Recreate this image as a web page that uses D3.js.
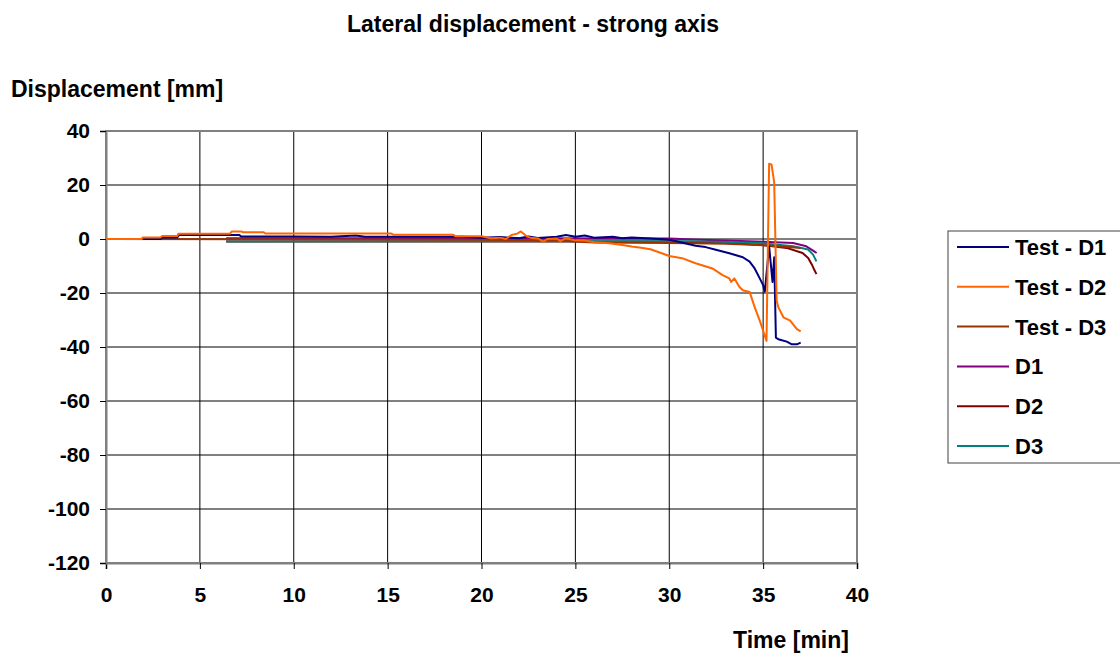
<!DOCTYPE html>
<html>
<head>
<meta charset="utf-8">
<script src="https://d3js.org/d3.v7.min.js"></script>
<style>
  body { margin: 0; background: #fff; }
  text { font-family: "Liberation Sans", Arial, sans-serif; font-weight: bold; fill: #000; }
</style>
</head>
<body>
<div id="chart"></div>
<script>
// tick labels
var xTicks = [0, 5, 10, 15, 20, 25, 30, 35, 40];
var yTicks = [40, 20, 0, -20, -40, -60, -80, -100, -120];

// series names and colours (legend order)
var seriesNames = ["Test - D1", "Test - D2", "Test - D3", "D1", "D2", "D3"];
var seriesColors = ["#000080", "#ff6600", "#993300", "#800080", "#800000", "#008080"];

// [time min, displacement mm]
var testD1 = [[0,0],[2.9,0],[3.0,0.6],[3.8,0.6],[3.9,1.5],[7.1,1.5],[7.2,0.9],[10,0.9],[12,0.8],[13.3,1.3],[13.8,0.8],
  [17,0.8],[19,0.8],[20,0.5],[21,0.7],[22,0.3],[22.5,0.9],[23,0.4],[24,0.8],[24.5,1.5],[25,0.8],[25.5,1.3],[26,0.5],
  [27,0.8],[27.5,0.3],[28,0.6],[29,0.2],[30,-0.3],[30.5,-1.0],[30.95,-1.75],[31.4,-2.5],[31.94,-3],[32.48,-4],[33.2,-5.25],
  [33.92,-6.75],[34.28,-8.4],[34.55,-10.9],[34.82,-14.6],[35.0,-17.1],[35.09,-19.5],[35.32,-2.75],[35.5,-15.9],[35.59,-6.75],
  [35.68,-36.5],[35.81,-37.1],[36.26,-38],[36.53,-39],[36.8,-39],[37.0,-38.4]];

var testD2 = [[0,0],[1.9,0],[1.95,0.6],[2.9,0.6],[3.0,1.1],[3.8,1.1],[3.85,1.9],[6.6,1.9],[6.7,2.8],[7.2,2.8],[7.3,2.5],
  [8.4,2.5],[8.5,2.0],[15.2,2.0],[15.3,1.6],[18.5,1.6],[18.6,1.0],[20.0,1.0],[20.5,0.3],[21.0,0.5],[21.3,0.0],[21.6,1.5],
  [21.9,2.0],[22.1,2.8],[22.4,1.0],[22.6,0.5],[23.0,0.2],[23.3,-1.0],[23.5,0.0],[24.0,0.2],[24.2,-0.8],[24.5,0.3],[25.0,-0.5],
  [25.5,-0.6],[26.0,-1.2],[26.8,-1.6],[27.5,-2.2],[28.0,-2.8],[28.5,-3.2],[29.0,-3.8],[29.6,-5.3],[30.0,-6.3],[30.68,-7.1],
  [31.4,-9],[32.3,-10.9],[32.84,-13.4],[33.2,-14.6],[33.3,-15.9],[33.47,-14.6],[33.74,-17.75],[33.92,-19],[34.28,-19.6],
  [34.55,-25.25],[34.82,-30.25],[35.0,-34],[35.18,-37.75],[35.32,27.9],[35.45,27.5],[35.59,21],[35.72,-22.75],[35.81,-25.25],
  [36.08,-29],[36.44,-30.25],[36.8,-33.4],[37.0,-34.25]];

var testD3 = [[0,0],[20,-0.3],[24,-0.5],[25,-0.9],[26,-1.3],[30,-1.5],[33,-1.8],[35,-2.3],[36,-2.8],[37,-3.3]];

var d1 = [[6.4,0.3],[30,0.2],[31.24,-0.2],[33,-0.6],[35,-1.0],[36.6,-1.5],[37.3,-2.7],[37.66,-4.3],[37.85,-5.2]];

var d2 = [[6.4,-0.9],[29.6,-0.9],[31.24,-1.1],[33.0,-1.5],[34.8,-2.1],[36.25,-3.3],[37.1,-5.2],[37.4,-7],[37.6,-9.5],
  [37.73,-11.5],[37.84,-13]];

var d3Num = [[6.4,-0.9],[31.24,-0.8],[33,-1.1],[34.8,-1.5],[36.6,-2.7],[37.4,-3.9],[37.66,-5.8],[37.84,-8.3]];

var seriesData = [testD1, testD2, testD3, d1, d2, d3Num];

var width = 1120, height = 657;
var plotL = 106, plotR = 857, plotT = 131, plotB = 563;

var svg = d3.select("#chart").append("svg")
  .attr("width", width)
  .attr("height", height);

var x = d3.scaleLinear().domain([0, 40]).range([plotL, plotR]);
var y = d3.scaleLinear().domain([-120, 40]).range([plotB, plotT]);

// gridlines
svg.append("g").selectAll("line")
  .data(xTicks.slice(1, -1))
  .enter().append("line")
    .attr("x1", function(d) { return x(d); }).attr("x2", function(d) { return x(d); })
    .attr("y1", plotT).attr("y2", plotB)
    .attr("stroke", "#000").attr("stroke-width", 1);

svg.append("g").selectAll("line")
  .data(yTicks.slice(1, -1))
  .enter().append("line")
    .attr("x1", plotL).attr("x2", plotR)
    .attr("y1", function(d) { return y(d); }).attr("y2", function(d) { return y(d); })
    .attr("stroke", "#000").attr("stroke-width", 1);

// frame
svg.append("rect")
  .attr("x", plotL).attr("y", plotT)
  .attr("width", plotR - plotL).attr("height", plotB - plotT)
  .attr("fill", "none").attr("stroke", "#808080").attr("stroke-width", 2);

// axes (plain hyphen for negatives, like the original)
var fmt = function(d) { return String(d); };
var xAxis = svg.append("g")
  .attr("transform", "translate(0," + plotB + ")")
  .call(d3.axisBottom(x).tickValues(xTicks).tickFormat(fmt).tickSize(6).tickPadding(18));
var yAxis = svg.append("g")
  .attr("transform", "translate(" + plotL + ",0)")
  .call(d3.axisLeft(y).tickValues(yTicks).tickFormat(fmt).tickSize(6).tickPadding(10));

[xAxis, yAxis].forEach(function(a) {
  a.select(".domain").attr("stroke", "#808080").attr("stroke-width", 2);
  a.selectAll(".tick line").attr("stroke", "#000");
  a.selectAll(".tick text")
    .style("font-family", '"Liberation Sans", Arial, sans-serif')
    .style("font-weight", "bold")
    .style("font-size", "21px")
    .attr("fill", "#000");
});

// lines
var line = d3.line()
  .x(function(d) { return x(d[0]); })
  .y(function(d) { return y(d[1]); });

// draw order so numerical curves sit under the test curves
var drawOrder = [3, 4, 5, 2, 0, 1];
drawOrder.forEach(function(i) {
  svg.append("path")
    .attr("d", line(seriesData[i]))
    .attr("fill", "none")
    .attr("stroke", seriesColors[i])
    .attr("stroke-width", 2)
    .attr("stroke-linejoin", "round");
});

// titles
svg.append("text")
  .attr("x", 533).attr("y", 32)
  .attr("text-anchor", "middle")
  .style("font-size", "23px")
  .text("Lateral displacement - strong axis");

svg.append("text")
  .attr("x", 11).attr("y", 97)
  .style("font-size", "23px")
  .text("Displacement [mm]");

svg.append("text")
  .attr("x", 791).attr("y", 648)
  .attr("text-anchor", "middle")
  .style("font-size", "23px")
  .text("Time [min]");

// legend, centred on the plot height
var lgTop = 231, lgBottom = 463, lgStep = 39.8;
var lg = svg.append("g");
lg.append("rect")
  .attr("x", 948).attr("y", lgTop)
  .attr("width", 190).attr("height", lgBottom - lgTop)
  .attr("fill", "#fff").attr("stroke", "#404040").attr("stroke-width", 1);

seriesNames.forEach(function(name, i) {
  var yy = 247 + i * lgStep;
  lg.append("line")
    .attr("x1", 957).attr("x2", 1009)
    .attr("y1", yy).attr("y2", yy)
    .attr("stroke", seriesColors[i]).attr("stroke-width", 2);
  lg.append("text")
    .attr("x", 1015).attr("y", yy + 8)
    .style("font-size", "22px")
    .text(name);
});
</script>
</body>
</html>
